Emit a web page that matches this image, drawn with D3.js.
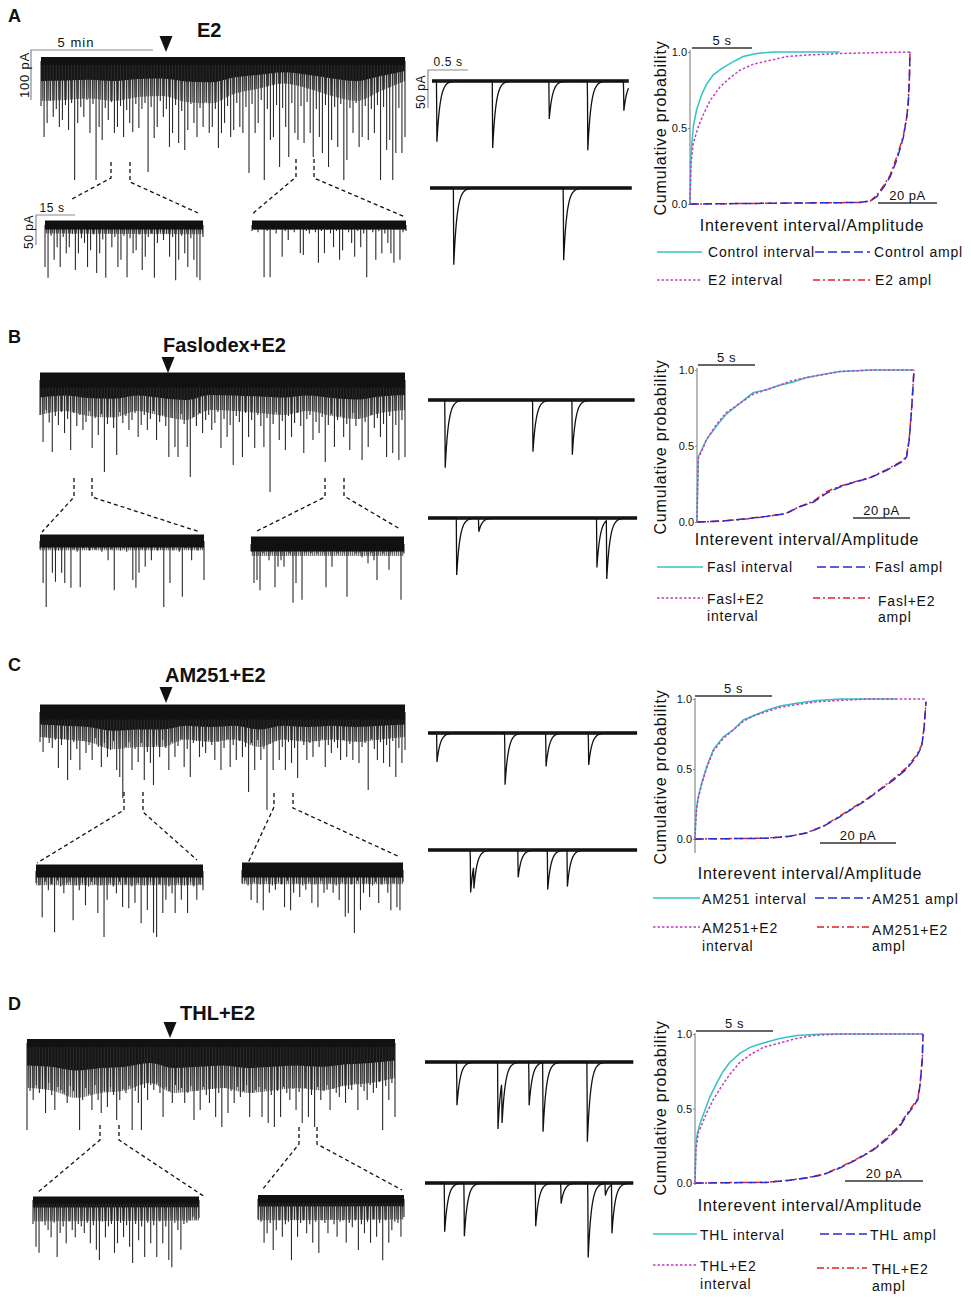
<!DOCTYPE html>
<html>
<head>
<meta charset="utf-8">
<script src="https://d3js.org/d3.v7.min.js"></script>
<style>
  body { margin: 0; background: #fff; }
  text { font-family: "Liberation Sans", Arial, sans-serif; fill: #111; }
</style>
</head>
<body>
<svg id="fig" width="971" height="1300"></svg>
<script>
const panelLetters = ['A', 'B', 'C', 'D'];
const panelTitles = ['E2', 'Faslodex+E2', 'AM251+E2', 'THL+E2'];

// slow recordings: one downward amplitude (pA) per sampling slot
const mainStep = 0.125;   // min per slot
const insetStep = 1.17;   // s per slot

const mainSpikesA = [90,152,124,80,112,96,132,118,88,138,84,238,124,92,112,78,144,86,238,132,
  158,94,118,82,144,132,90,152,98,124,142,86,134,96,84,222,92,154,132,80,
  112,96,172,144,88,164,100,178,138,86,124,152,94,132,82,144,132,96,174,144,
  124,90,152,138,84,132,144,92,224,86,144,124,78,238,96,158,152,88,212,94,
  132,192,84,144,158,90,164,82,144,192,96,152,184,88,212,158,92,172,86,238,
  198,94,144,84,172,152,90,158,96,144,88,238,92,178,158,238,184,94,184,152];
const mainCoreA = [80,78,75,80,72,70,82,85,65,55,45,55,70,80,60,40];

const mainSpikesB = [70,124,60,85,144,72,90,64,106,78,140,66,92,70,100,84,62,136,76,110,
  68,184,88,74,96,150,64,86,72,100,80,66,114,90,70,100,78,62,120,84,
  70,92,154,76,134,154,68,88,134,194,74,92,66,106,80,70,100,86,64,136,
  78,114,90,170,72,84,154,66,114,80,136,70,92,134,76,224,88,64,120,82,
  140,72,114,86,66,92,146,78,70,120,84,106,74,164,90,68,134,80,72,114,
  88,140,66,92,78,160,84,134,70,96,76,114,88,154,72,146,90,160,80,154];
const mainCoreB = [70,62,72,75,62,72,80,60,62,66,70,62,72,78,66,60];

const mainSpikesC = [60,80,50,62,72,56,112,66,54,136,96,60,74,116,58,82,66,96,52,70,
  110,62,90,76,58,116,130,172,70,60,116,74,100,62,136,80,102,146,66,90,
  56,72,116,60,90,68,54,110,74,130,62,58,90,70,82,56,66,96,60,116,
  72,54,110,66,96,58,90,70,160,62,116,56,96,74,196,64,116,58,96,70,
  116,60,102,72,132,56,66,96,62,90,58,70,54,110,66,82,60,72,96,56,
  90,64,96,58,102,70,62,156,54,74,96,60,102,66,110,58,130,72,102,76];
const mainCoreC = [50,55,60,75,70,70,55,60,55,70,55,60,55,60,55,50];

const mainSpikesD = [174,96,114,84,100,92,140,80,104,134,88,94,100,120,86,96,108,174,114,90,
  102,134,84,114,140,96,128,88,104,154,114,92,100,86,174,96,120,174,90,114,
  84,94,80,100,148,88,96,120,84,94,90,120,100,86,154,96,134,88,104,120,
  92,148,100,168,90,140,96,120,88,108,96,84,148,100,94,88,148,92,160,104,
  168,96,148,88,100,114,92,134,98,160,90,148,104,168,88,114,96,84,134,92,
  100,108,86,120,92,94,80,134,88,96,114,84,100,90,78,174,86,114,80,148];
const mainCoreD = [90,95,110,100,95,80,100,95,90,100,95,90,95,85,80,70];

const insetSpikesA1 = [70,88,18,58,37,70,20,47,37,15,75,47,22,30,70,42,16,80,47,24,
  88,14,37,20,70,58,18,87,22,47,42,16,75,53,20,14,88,30,12,25,
  15,53,20,92,58,18,47,70,22,58,87,92,20];
const insetSpikesA2 = [10,8,12,6,87,10,87,8,14,6,53,10,25,8,12,6,47,50,10,14,
  8,12,63,10,47,8,14,37,10,58,42,8,12,30,53,10,37,14,87,8,
  12,58,10,47,14,30,47,63,8,58,12,10];
const insetSpikesB1 = [14,70,110,12,53,68,16,53,70,10,78,14,18,77,12,10,16,12,14,10,
  18,12,32,14,82,10,16,12,18,10,65,78,53,14,43,12,32,10,16,14,
  110,12,70,16,10,18,93,12,14,32,10,16,12,65];
const insetSpikesB2 = [12,65,60,77,15,10,27,14,72,38,27,38,12,16,98,65,10,93,14,12,
  15,10,16,12,14,72,10,38,12,16,10,14,88,12,10,16,14,22,12,32,
  15,27,60,10,16,12,43,14,10,12,93,16];
const insetSpikesC1 = [20,24,77,18,32,22,102,16,26,37,20,18,82,24,32,20,57,26,18,22,
  70,24,110,48,20,26,37,18,60,22,62,26,53,20,87,24,65,18,103,110,
  22,70,48,26,37,70,20,48,24,70,18,26,48,22,32];
const insetSpikesC2 = [22,18,26,50,20,55,24,67,18,38,26,33,20,24,62,18,67,38,22,45,
  26,33,20,55,24,62,18,38,33,22,38,26,50,20,78,72,24,105,18,67,
  38,22,45,26,20,55,24,18,38,67,22,62,67,20];
const insetSpikesD1 = [40,78,88,36,42,50,62,38,95,55,44,72,36,50,62,40,44,55,38,72,
  42,83,100,36,62,44,40,88,72,38,62,42,78,105,40,67,44,95,38,72,
  42,95,36,72,44,100,112,38,50,83,40,38,34,28,33,30];
const insetSpikesD2 = [34,38,73,57,40,85,52,36,63,42,38,102,34,63,40,36,57,42,73,38,
  90,36,40,57,34,42,63,38,36,73,40,47,36,85,42,57,38,73,34,63,
  40,102,36,73,52,38,40,63,30];
const insetCoreA = [[14, 16], [8, 8]];
const insetCoreB = [[16, 16], [20, 20]];
const insetCoreC = [[24, 24], [24, 24]];
const insetCoreD = [[36, 34], [36, 34]];

// fast sweeps: [time (s), amplitude (pA)] of each event, and sweep length (s)
const fastEventsA1 = [[0.06, 80], [0.74, 88], [1.43, 50], [1.90, 91], [2.34, 39]];
const fastEventsA2 = [[0.29, 101], [1.63, 95]];
const fastEventsB1 = [[0.21, 89], [1.28, 68], [1.76, 72]];
const fastEventsB2 = [[0.35, 75], [0.62, 18], [2.06, 65], [2.18, 77]];
const fastEventsC1 = [[0.11, 38], [0.94, 68], [1.44, 44], [1.96, 42]];
const fastEventsC2 = [[0.52, 56], [0.56, 30], [1.10, 36], [1.46, 52], [1.70, 48]];
const fastEventsD1 = [[0.39, 57], [0.89, 88], [0.94, 55], [1.27, 57], [1.44, 91], [1.98, 105]];
const fastEventsD2 = [[0.24, 64], [0.48, 70], [1.35, 57], [1.66, 27], [1.99, 98], [2.20, 16], [2.28, 64]];
const fastDurations = [[2.40, 2.46], [2.52, 2.55], [2.55, 2.55], [2.54, 2.54]];

// cumulative probability curves: [position on the shared axis (0-100), probability]
const cdfA_ctrlInt = [[0,0],[0.45,0.33],[1.5,0.51],[3,0.62],[5.3,0.72],[7.6,0.79],[10.6,0.85],[14.4,0.89],[18.9,0.93],[24.2,0.97],[30.3,0.99],[37.9,1],[68,1]];
const cdfA_e2Int = [[0,0],[0.45,0.27],[1.5,0.4],[3.8,0.51],[6.1,0.59],[9.1,0.68],[13.6,0.77],[18.2,0.83],[22.7,0.88],[28.8,0.92],[34.8,0.94],[43.9,0.97],[53,0.98],[68,0.99],[83,0.995],[100,1]];
const cdfA_ctrlAmp = [[0,0],[77,0.01],[82,0.02],[85,0.05],[88,0.11],[91,0.18],[94,0.29],[97,0.44],[98.5,0.57],[99.2,0.66],[99.7,0.81],[100,1]];
const cdfA_e2Amp = [[0,0],[77,0.01],[82,0.02],[85,0.06],[88,0.12],[91,0.19],[94,0.31],[97,0.45],[98.5,0.57],[99.2,0.67],[99.7,0.82],[100,1]];

const cdfB_faslInt = [[0,0],[0.3,0.25],[0.6,0.43],[2,0.47],[4.3,0.54],[8.9,0.63],[13.5,0.71],[19.7,0.78],[25.8,0.85],[32,0.87],[38,0.9],[44,0.92],[50.5,0.95],[58,0.97],[65.8,0.99],[81,1],[100,1]];
const cdfB_e2Int = [[0,0],[0.3,0.24],[0.6,0.42],[2,0.46],[4.3,0.54],[8.9,0.64],[13.5,0.72],[19.7,0.78],[25.8,0.84],[32,0.87],[38,0.9],[44,0.93],[50.5,0.95],[58,0.97],[65.8,0.99],[81,1],[100,1]];
const cdfB_faslAmp = [[0,0],[12,0.007],[22.8,0.022],[32,0.037],[41,0.055],[47,0.099],[53.5,0.13],[59.7,0.19],[65.8,0.23],[72,0.26],[79.7,0.29],[87.4,0.34],[95,0.4],[96.6,0.43],[97.8,0.54],[98.9,0.74],[100,1]];
const cdfB_e2Amp = [[0,0],[12,0.006],[22.8,0.02],[32,0.036],[41,0.057],[47,0.1],[53.5,0.135],[59.7,0.2],[65.8,0.235],[72,0.262],[79.7,0.292],[87.4,0.345],[95,0.405],[96.6,0.44],[97.8,0.55],[98.9,0.75],[100,1]];

const cdfC_amInt = [[0,0],[0.3,0.14],[0.7,0.23],[1.4,0.3],[2.9,0.4],[5.1,0.52],[8,0.64],[12.3,0.73],[16.6,0.78],[20.9,0.85],[25.3,0.88],[31,0.92],[36.8,0.95],[44,0.97],[52.7,0.99],[62.8,1],[87.3,1]];
const cdfC_e2Int = [[0,0],[0.3,0.12],[0.7,0.21],[1.4,0.29],[2.9,0.39],[5.1,0.51],[8,0.63],[12.3,0.72],[16.6,0.78],[20.9,0.84],[25.3,0.88],[31,0.91],[36.8,0.94],[44,0.96],[52.7,0.98],[62.8,0.99],[75,1],[100,1]];
const cdfC_amAmp = [[0,0],[31,0.005],[41,0.019],[48.3,0.043],[55.5,0.09],[62.8,0.16],[68.5,0.22],[74.3,0.28],[80,0.35],[85.9,0.42],[91.6,0.5],[96,0.59],[98.1,0.66],[99.1,0.78],[100,0.98]];
const cdfC_e2Amp = [[0,0],[31,0.006],[41,0.02],[48.3,0.045],[55.5,0.092],[62.8,0.165],[68.5,0.225],[74.3,0.285],[80,0.355],[85.9,0.43],[91.6,0.51],[96,0.6],[98.1,0.67],[99.1,0.79],[100,0.98]];

const cdfD_thlInt = [[0,0],[0.4,0.27],[1,0.33],[2.2,0.4],[4.4,0.49],[6.6,0.58],[9.5,0.67],[12.4,0.75],[15.3,0.81],[19.7,0.87],[24.1,0.91],[29.9,0.94],[37.2,0.97],[44.5,0.99],[56.2,1],[100,1]];
const cdfD_e2Int = [[0,0],[0.4,0.22],[1.5,0.34],[2.9,0.39],[5.1,0.47],[8,0.56],[11.7,0.65],[15.3,0.73],[19.7,0.81],[24.1,0.86],[29.9,0.91],[37.2,0.94],[44.5,0.97],[51.8,0.99],[63.5,1],[100,1]];
const cdfD_thlAmp = [[0,0],[31.4,0.004],[41.6,0.018],[48.9,0.034],[56.2,0.056],[63.5,0.1],[70.8,0.157],[78.1,0.22],[83.9,0.29],[89.8,0.38],[92.7,0.45],[95.6,0.51],[97.8,0.56],[98.8,0.67],[99.7,0.83],[100,1]];
const cdfD_e2Amp = [[0,0],[31.4,0.005],[41.6,0.019],[48.9,0.036],[56.2,0.058],[63.5,0.105],[70.8,0.16],[78.1,0.225],[83.9,0.3],[89.8,0.39],[92.7,0.46],[95.6,0.52],[97.8,0.57],[98.8,0.68],[99.7,0.84],[100,1]];

const legendA = [['Control interval'], ['Control ampl'], ['E2 interval'], ['E2 ampl']];
const legendB = [['Fasl interval'], ['Fasl ampl'], ['Fasl+E2', 'interval'], ['Fasl+E2', 'ampl']];
const legendC = [['AM251 interval'], ['AM251 ampl'], ['AM251+E2', 'interval'], ['AM251+E2', 'ampl']];
const legendD = [['THL interval'], ['THL ampl'], ['THL+E2', 'interval'], ['THL+E2', 'ampl']];

const yTicks = [0, 0.5, 1];

// ---------- layout ----------
const panels = [
  { letterY: 22, titleX: 197, titleY: 37, tip: [166, 52],
    main: { x0: 41, x1: 405, base: 61, band: 8 }, spikes: mainSpikesA, core: mainCoreA,
    insets: [{ x0: 45, x1: 203, base: 225, band: 9 }, { x0: 252, x1: 406, base: 225, band: 9 }],
    insetSpikes: [insetSpikesA1, insetSpikesA2], insetCore: insetCoreA,
    fast: [{ x0: 432, base: 81 }, { x0: 430, base: 188 }], events: [fastEventsA1, fastEventsA2],
    links: [[[111,162],[111,178],[72,199]], [[130,162],[130,182],[198,213]],
            [[296,159],[296,177],[251,215]], [[314,159],[314,178],[405,217]]],
    cdf: { x0: 690, x1: 910, y0: 204, y1: 52, top: 50, bottom: 205, ylab: 128, xlab: 231, xlabX: 812,
           bar5: [692, 752, 48], bar20: [878, 937, 203] },
    curves: [cdfA_ctrlInt, cdfA_ctrlAmp, cdfA_e2Int, cdfA_e2Amp], labels: legendA,
    leg: [{ s: [657, 702, 252], tx: 708, ty: [257] }, { s: [815, 870, 252], tx: 874, ty: [257] },
          { s: [657, 702, 280], tx: 708, ty: [285] }, { s: [813, 870, 280], tx: 875, ty: [285] }] },
  { letterY: 343, titleX: 163, titleY: 352, tip: [168, 373],
    main: { x0: 40, x1: 405, base: 380, band: 15 }, spikes: mainSpikesB, core: mainCoreB,
    insets: [{ x0: 40, x1: 204, base: 541, band: 13 }, { x0: 251, x1: 404, base: 544, band: 15 }],
    insetSpikes: [insetSpikesB1, insetSpikesB2], insetCore: insetCoreB,
    fast: [{ x0: 428, base: 400 }, { x0: 428, base: 518 }], events: [fastEventsB1, fastEventsB2],
    links: [[[74,478],[74,497],[42,532]], [[92,478],[92,497],[200,532]],
            [[325,478],[325,497],[255,532]], [[344,478],[344,496],[400,529]]],
    cdf: { x0: 697, x1: 914, y0: 522, y1: 370, top: 368, bottom: 522, ylab: 447, xlab: 545, xlabX: 807,
           bar5: [698, 755, 365], bar20: [853, 910, 518] },
    curves: [cdfB_faslInt, cdfB_faslAmp, cdfB_e2Int, cdfB_e2Amp], labels: legendB,
    leg: [{ s: [657, 703, 567], tx: 707, ty: [572] }, { s: [817, 870, 567], tx: 875, ty: [572] },
          { s: [657, 703, 598], tx: 707, ty: [604, 621] }, { s: [813, 870, 598], tx: 878, ty: [606, 622] }] },
  { letterY: 671, titleX: 165, titleY: 682, tip: [166, 703],
    main: { x0: 40, x1: 405, base: 712, band: 15 }, spikes: mainSpikesC, core: mainCoreC,
    insets: [{ x0: 36, x1: 203, base: 871, band: 13 }, { x0: 242, x1: 403, base: 870, band: 15 }],
    insetSpikes: [insetSpikesC1, insetSpikesC2], insetCore: insetCoreC,
    fast: [{ x0: 428, base: 733 }, { x0: 428, base: 850 }], events: [fastEventsC1, fastEventsC2],
    links: [[[124,792],[124,810],[37,863]], [[143,792],[143,812],[197,860]],
            [[274,793],[274,807],[248,863]], [[293,793],[293,808],[400,857]]],
    cdf: { x0: 695, x1: 926, y0: 839, y1: 699, top: 698, bottom: 853, ylab: 777, xlab: 879, xlabX: 810,
           bar5: [695, 772, 696], bar20: [820, 896, 843] },
    curves: [cdfC_amInt, cdfC_amAmp, cdfC_e2Int, cdfC_e2Amp], labels: legendC,
    leg: [{ s: [653, 700, 898], tx: 702, ty: [904] }, { s: [815, 870, 898], tx: 872, ty: [904] },
          { s: [653, 700, 927], tx: 702, ty: [933, 951] }, { s: [817, 870, 927], tx: 872, ty: [935, 951] }] },
  { letterY: 1010, titleX: 180, titleY: 1020, tip: [170, 1038],
    main: { x0: 27, x1: 395, base: 1043, band: 8 }, spikes: mainSpikesD, core: mainCoreD,
    insets: [{ x0: 33, x1: 199, base: 1200, band: 7 }, { x0: 258, x1: 404, base: 1199, band: 8 }],
    insetSpikes: [insetSpikesD1, insetSpikesD2], insetCore: insetCoreD,
    fast: [{ x0: 425, base: 1062 }, { x0: 425, base: 1183 }], events: [fastEventsD1, fastEventsD2],
    links: [[[100,1125],[100,1140],[37,1193]], [[119,1125],[119,1140],[205,1197]],
            [[299,1127],[299,1144],[262,1190]], [[317,1127],[317,1144],[402,1190]]],
    cdf: { x0: 695, x1: 923, y0: 1183, y1: 1034, top: 1033, bottom: 1185, ylab: 1108, xlab: 1211, xlabX: 810,
           bar5: [696, 773, 1031], bar20: [845, 923, 1181] },
    curves: [cdfD_thlInt, cdfD_thlAmp, cdfD_e2Int, cdfD_e2Amp], labels: legendD,
    leg: [{ s: [653, 697, 1234], tx: 700, ty: [1240] }, { s: [820, 867, 1234], tx: 870, ty: [1240] },
          { s: [653, 697, 1265], tx: 700, ty: [1271, 1289] }, { s: [817, 867, 1268], tx: 872, ty: [1274, 1291] }] }
];

const curveStyles = [
  { color: '#33c3c3', dash: null },        // interval, control
  { color: '#2a2ad0', dash: '9,4' },       // amplitude, control
  { color: '#c23cc2', dash: '2.5,2' },     // interval, drug
  { color: '#e22222', dash: '7,3,2,3' }    // amplitude, drug
];

const svg = d3.select('#fig');
const defs = svg.append('defs');
// dense sweeps: fine vertical hatching that fades with depth
defs.append('pattern').attr('id', 'stripes').attr('patternUnits', 'userSpaceOnUse')
    .attr('width', 2).attr('height', 8)
  .append('rect').attr('width', 1.3).attr('height', 8).attr('fill', '#1a1a1a');
const fade = defs.append('linearGradient').attr('id', 'fadeGrad')
    .attr('x1', 0).attr('y1', 0).attr('x2', 0).attr('y2', 1);
fade.append('stop').attr('offset', 0).attr('stop-color', '#fff');
fade.append('stop').attr('offset', 1).attr('stop-color', '#909090');
defs.append('mask').attr('id', 'fade').attr('maskContentUnits', 'objectBoundingBox')
  .append('rect').attr('width', 1).attr('height', 1).attr('fill', 'url(#fadeGrad)');

function slowTrace(spikes, core, step, box, pxPerPA, solid) {
  const span = (spikes.length - 1) * step;
  const x = d3.scaleLinear().domain([0, span]).range([box.x0, box.x1]);
  const y = d3.scaleLinear().domain([0, 100]).range([box.base, box.base + 100 * pxPerPA]);
  const g = svg.append('g');
  const coreStep = span / (core.length - 1);
  const area = k => d3.area().curve(d3.curveMonotoneX)
      .x((d, i) => x(i * coreStep)).y0(y(0)).y1(d => y(d * k));
  g.append('path').attr('d', area(1)(core)).attr('fill', 'url(#stripes)').attr('mask', 'url(#fade)');
  g.append('path').attr('d', area(solid)(core)).attr('fill', '#151515');
  g.selectAll('line').data(spikes).join('line')
      .attr('x1', (d, i) => x(i * step)).attr('x2', (d, i) => x(i * step))
      .attr('y1', y(0)).attr('y2', d => y(d))
      .attr('stroke', '#2a2a2a').attr('stroke-width', 1.1);
  g.append('rect')
      .attr('x', box.x0).attr('width', box.x1 - box.x0)
      .attr('y', box.base - box.band / 2).attr('height', box.band)
      .attr('fill', '#111');
}

const fastPxPerS = 82, fastPxPerPA = 0.76, rise = 0.005, tau = 0.04;
function fastTrace(events, dur, box) {
  const x = d3.scaleLinear().domain([0, dur]).range([box.x0, box.x0 + dur * fastPxPerS]);
  const y = d3.scaleLinear().domain([0, 50]).range([box.base, box.base + 50 * fastPxPerPA]);
  const ts = d3.range(0, dur, 0.003).concat(events.map(e => e[0])).sort(d3.ascending);
  const val = t => d3.sum(events, ([t0, a]) =>
      t < t0 - rise ? 0 : t < t0 ? a * (t - t0 + rise) / rise : a * Math.exp(-(t - t0) / tau));
  const g = svg.append('g');
  g.append('rect').attr('x', x(0)).attr('width', x(dur) - x(0))
      .attr('y', box.base - 1.8).attr('height', 3.6).attr('fill', '#1a1a1a');
  g.append('path').datum(ts)
      .attr('d', d3.line().x(t => x(t)).y(t => y(val(t))))
      .attr('fill', 'none').attr('stroke', '#111').attr('stroke-width', 1.3);
}

function cdfChart(p) {
  const c = p.cdf;
  const x = d3.scaleLinear().domain([0, 100]).range([c.x0, c.x1]);
  const y = d3.scaleLinear().domain([0, 1]).range([c.y0, c.y1]);
  const g = svg.append('g');
  g.append('line').attr('x1', c.x0).attr('x2', c.x0).attr('y1', c.top).attr('y2', c.bottom)
      .attr('stroke', '#8a8a8a').attr('stroke-width', 1.2);
  const ax = g.append('g').attr('transform', `translate(${c.x0},0)`)
      .call(d3.axisLeft(y).tickValues(yTicks).tickFormat(d3.format('.1f')).tickSize(2).tickPadding(1));
  ax.select('.domain').remove();
  ax.selectAll('line').attr('stroke', '#8a8a8a');
  ax.selectAll('text').attr('font-size', 11).attr('fill', '#333')
      .style('font-family', '"Liberation Sans", Arial, sans-serif');

  const line = d3.line().x(d => x(d[0])).y(d => y(d[1]));
  [3, 1, 0, 2].forEach(k => {
    g.append('path').datum(p.curves[k]).attr('d', line)
        .attr('fill', 'none').attr('stroke', curveStyles[k].color).attr('stroke-width', 1.5)
        .attr('stroke-dasharray', curveStyles[k].dash);
  });

  // scale bars
  [[c.bar5, '5 s'], [c.bar20, '20 pA']].forEach(([b, t]) => {
    g.append('line').attr('x1', b[0]).attr('x2', b[1]).attr('y1', b[2]).attr('y2', b[2])
        .attr('stroke', '#333').attr('stroke-width', 1.5);
    g.append('text').attr('x', (b[0] + b[1]) / 2).attr('y', b[2] - 3)
        .attr('text-anchor', 'middle').attr('font-size', 13).attr('letter-spacing', 0.5).text(t);
  });

  g.append('text').attr('transform', `translate(666,${c.ylab}) rotate(-90)`)
      .attr('text-anchor', 'middle').attr('font-size', 16).attr('letter-spacing', 0.8)
      .text('Cumulative probability');
  g.append('text').attr('x', c.xlabX).attr('y', c.xlab)
      .attr('text-anchor', 'middle').attr('font-size', 16).attr('letter-spacing', 0.75)
      .text('Interevent interval/Amplitude');

  p.leg.forEach((L, k) => {
    g.append('line').attr('x1', L.s[0]).attr('x2', L.s[1]).attr('y1', L.s[2]).attr('y2', L.s[2])
        .attr('stroke', curveStyles[k].color).attr('stroke-width', 1.5)
        .attr('stroke-dasharray', curveStyles[k].dash);
    p.labels[k].forEach((t, j) => {
      g.append('text').attr('x', L.tx).attr('y', L.ty[j])
          .attr('font-size', 14).attr('letter-spacing', 0.8).text(t);
    });
  });
}

panels.forEach((p, i) => {
  svg.append('text').attr('x', 8).attr('y', p.letterY)
      .attr('font-size', 18).attr('font-weight', 'bold').text(panelLetters[i]);
  svg.append('text').attr('x', p.titleX).attr('y', p.titleY)
      .attr('font-size', 20).attr('font-weight', 'bold').text(panelTitles[i]);
  const [tx, ty] = p.tip;
  svg.append('path').attr('d', `M${tx - 6.5},${ty - 16}L${tx + 6.5},${ty - 16}L${tx},${ty}Z`).attr('fill', '#111');

  slowTrace(p.spikes, p.core, mainStep, p.main, 0.5, 0.5);
  p.insets.forEach((b, j) => slowTrace(p.insetSpikes[j], p.insetCore[j], insetStep, b, 0.6, 0.35));
  p.fast.forEach((b, j) => fastTrace(p.events[j], fastDurations[i][j], b));

  p.links.forEach(pts => {
    svg.append('path').attr('d', d3.line()(pts)).attr('fill', 'none')
        .attr('stroke', '#111').attr('stroke-width', 1.3).attr('stroke-dasharray', '4,3');
  });
  cdfChart(p);
});

// calibration bars (panel A only)
const bars = svg.append('g').attr('stroke', '#8a8a8a').attr('stroke-width', 1.2).attr('fill', 'none');
bars.append('path').attr('d', 'M153,50H31V100');
bars.append('path').attr('d', 'M75,215H36V245');
bars.append('path').attr('d', 'M468,70H428V108');
svg.append('text').attr('x', 76).attr('y', 47).attr('text-anchor', 'middle')
    .attr('font-size', 13).attr('letter-spacing', 1).text('5 min');
svg.append('text').attr('transform', 'translate(29,75) rotate(-90)').attr('text-anchor', 'middle')
    .attr('font-size', 13).attr('letter-spacing', 0.8).text('100 pA');
svg.append('text').attr('x', 52).attr('y', 212).attr('text-anchor', 'middle')
    .attr('font-size', 12).attr('letter-spacing', 0.6).text('15 s');
svg.append('text').attr('transform', 'translate(33,232) rotate(-90)').attr('text-anchor', 'middle')
    .attr('font-size', 12).attr('letter-spacing', 0.5).text('50 pA');
svg.append('text').attr('x', 448).attr('y', 66).attr('text-anchor', 'middle')
    .attr('font-size', 12).attr('letter-spacing', 0.6).text('0.5 s');
svg.append('text').attr('transform', 'translate(425,92) rotate(-90)').attr('text-anchor', 'middle')
    .attr('font-size', 12).attr('letter-spacing', 0.5).text('50 pA');
</script>
</body>
</html>
